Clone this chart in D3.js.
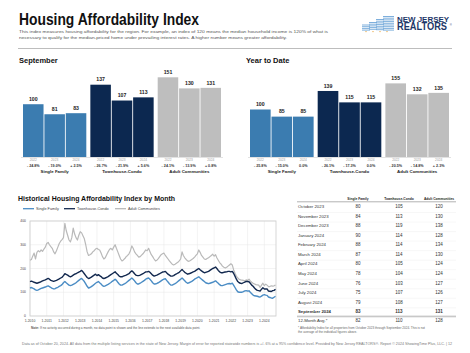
<!DOCTYPE html>
<html>
<head>
<meta charset="utf-8">
<script src="https://cdn.jsdelivr.net/npm/d3@7"></script>
<style>
  body { margin: 0; background: #fff; }
  svg { display: block; font-family: 'Liberation Sans', Arial, sans-serif; }
</style>
</head>
<body>
<svg width="470" height="353"></svg>
<script>
'use strict';
const svg = d3.select('svg');

// bar chart data
const groups = ['Single Family', 'Townhouse-Condo', 'Adult Communities'];
const years = ['2022', '2023', '2024'];
const group_colors = ['#3b7cb0', '#0c2850', '#bebebe'];
const sep_values = [[100, 81, 83], [137, 107, 113], [151, 130, 131]];
const sep_changes = [['- 24.8%', '- 19.0%', '+ 2.5%'], ['- 26.7%', '- 21.9%', '+ 5.6%'], ['- 24.1%', '- 13.9%', '+ 0.8%']];
const ytd_values = [[100, 85, 85], [139, 115, 115], [155, 132, 135]];
const ytd_changes = [['- 25.8%', '- 15.0%', '0.0%'], ['- 26.1%', '- 17.3%', '0.0%'], ['- 20.5%', '- 14.8%', '+ 2.3%']];

// monthly history, Jan 2010 .. Sep 2024
const sf_monthly = [
  118,120,117,114,110,108,110,113,116,118,120,122,
  125,127,124,120,116,114,115,118,121,125,128,132,
  140,145,140,135,130,128,130,133,136,140,145,150,
  155,158,152,145,135,125,118,120,124,128,133,138,
  142,145,140,135,128,125,127,130,133,137,141,146,
  150,155,150,142,135,130,130,133,136,140,145,150,
  155,160,155,148,140,135,135,138,142,146,150,155,
  158,160,155,148,140,135,135,137,140,144,148,152,
  155,157,150,143,136,130,130,133,136,140,145,150,
  155,160,155,148,142,138,140,143,146,150,155,158,
  162,165,160,155,150,145,140,138,136,138,140,142,
  145,148,143,138,132,128,128,130,132,134,136,137,
  135,138,130,120,110,102,100,100,100,103,106,107,
  105,106,100,94,88,85,84,83,81,80,84,88,
  90,88,87,80,78,76,75,79,83
];
const th_monthly = [
  145,147,145,142,140,138,140,142,145,148,150,152,
  155,158,155,150,148,146,148,150,153,156,160,163,
  170,178,175,172,168,165,168,172,176,178,182,185,
  188,192,186,178,170,162,158,160,164,168,172,176,
  170,174,170,166,160,158,160,163,166,170,174,178,
  182,186,180,175,168,165,165,168,170,172,175,178,
  185,190,185,178,172,170,170,172,175,178,182,186,
  186,188,184,178,172,168,170,172,175,178,182,185,
  186,188,182,176,172,168,168,170,174,177,181,184,
  190,196,190,184,180,176,178,180,183,186,188,192,
  196,200,195,190,186,182,184,186,188,192,196,200,
  203,206,200,192,186,182,182,184,185,186,188,188,
  186,188,180,168,155,145,140,138,137,140,143,146,
  145,144,138,130,125,118,112,108,107,105,113,119,
  114,114,114,105,104,103,107,108,113
];
const ac_monthly = [
  235,238,252,265,240,268,275,270,278,272,282,290,
  305,310,300,292,285,270,262,275,290,305,315,322,
  330,390,360,340,320,312,330,370,345,330,320,340,
  355,350,338,325,300,270,255,258,262,270,275,282,
  285,280,278,265,250,240,245,258,270,280,285,278,
  290,300,285,270,255,240,232,236,242,250,255,262,
  275,295,285,270,262,255,248,250,256,262,270,278,
  275,285,272,258,250,240,232,235,242,250,258,262,
  265,255,248,240,232,225,218,215,218,222,226,232,
  240,270,255,245,238,232,230,234,238,242,248,255,
  262,278,268,255,248,240,238,242,245,250,255,260,
  252,258,245,235,225,218,210,205,202,205,210,215,
  220,215,195,180,168,160,155,152,151,150,148,152,
  150,155,148,142,138,135,132,131,130,120,130,138,
  128,134,130,124,124,127,126,127,131
];
const line_series = ['Single Family', 'Townhouse-Condo', 'Adult Communities'];
const line_colors = ['#4a8cc4', '#13294f', '#b9b9b9'];
const y_ticks = [0, 100, 200, 300, 400];
const x_tick_labels = ['1-2010','1-2011','1-2012','1-2013','1-2014','1-2015','1-2016','1-2017','1-2018','1-2019','1-2020','1-2021','1-2022','1-2023','1-2024'];

// table
const table_months = ['October 2023','November 2023','December 2023','January 2024','February 2024','March 2024','April 2024','May 2024','June 2024','July 2024','August 2024','September 2024'];
const table_sf = [80, 84, 88, 90, 88, 87, 80, 78, 76, 75, 79, 83];
const table_th = [105, 113, 119, 114, 114, 114, 105, 104, 103, 107, 108, 113];
const table_ac = [120, 130, 138, 128, 134, 130, 124, 124, 127, 126, 127, 131];
const table_avg = [82, 110, 128];

const condensed = "'Liberation Sans Narrow', 'Liberation Sans', Arial, sans-serif";

// header
svg.append('text').attr('x', 19).attr('y', 25)
  .attr('font-family', condensed).attr('font-weight', 'bold').attr('font-size', 16)
  .attr('textLength', 180).attr('lengthAdjust', 'spacingAndGlyphs')
  .attr('fill', '#111').text('Housing Affordability Index');
const sub_lines = [
  'This index measures housing affordability for the region. For example, an index of 120 means the median household income is 120% of what is',
  'necessary to qualify for the median-priced home under prevailing interest rates. A higher number means greater affordability.'
];
svg.append('g').selectAll('text').data(sub_lines).enter().append('text')
  .attr('x', 19).attr('y', (d, i) => 33 + i * 6.3)
  .attr('font-size', 4.1).attr('fill', '#555')
  .attr('textLength', (d, i) => i === 0 ? 309 : 268).attr('lengthAdjust', 'spacingAndGlyphs')
  .text(d => d);
svg.append('line').attr('x1', 18).attr('x2', 452).attr('y1', 48.5).attr('y2', 48.5)
  .attr('stroke', '#bdbdbd').attr('stroke-width', 1.2);

// logo
const logo = svg.append('g');
const towers = [[362, 8, 25], [369, 8, 22.5], [376, 8, 19.5], [383, 11, 16.5]];
towers.forEach(t => {
  const rows = d3.range(t[2], 30.5, 1.7);
  logo.append('g').selectAll('line').data(rows).enter().append('line')
    .attr('x1', t[0]).attr('x2', t[0] + t[1]).attr('y1', d => d).attr('y2', d => d)
    .attr('stroke', '#6fa6d8').attr('stroke-width', 0.9);
});
logo.append('g').selectAll('circle').data([366, 373, 380, 387]).enter().append('circle')
  .attr('cx', d => d).attr('cy', 31.6).attr('r', 0.7).attr('fill', '#e8a33a');
logo.append('text').attr('x', 397).attr('y', 21.5).attr('font-weight', 'bold').attr('font-size', 7)
  .attr('textLength', 52).attr('lengthAdjust', 'spacingAndGlyphs').attr('fill', '#1d3768').text('NEW JERSEY');
logo.append('text').attr('x', 397).attr('y', 30).attr('font-weight', 'bold').attr('font-size', 10)
  .attr('textLength', 50).attr('lengthAdjust', 'spacingAndGlyphs').attr('fill', '#1d3768').text('REALTORS');
logo.append('text').attr('x', 449.8).attr('y', 25.5).attr('font-size', 2.8).attr('fill', '#1d3768').text('®');

// bar charts
function draw_bars(left, right, values, changes, y_max, title) {
  const g = svg.append('g');
  g.append('text').attr('x', left - 4).attr('y', 62.5)
    .attr('font-family', condensed).attr('font-weight', 'bold').attr('font-size', 7.5)
    .attr('fill', '#111').text(title);

  const outer = d3.scaleBand().domain(groups).range([left, right]).paddingInner(0.06);
  const inner = d3.scaleBand().domain(years).range([0, outer.bandwidth()]).paddingInner(0.04);
  const y = d3.scaleLinear().domain([0, y_max]).range([157, 62]);

  g.append('line').attr('x1', left - 2).attr('x2', right + 2).attr('y1', 157.5).attr('y2', 157.5)
    .attr('stroke', '#cfcfcf').attr('stroke-width', 0.6);

  const grp = g.selectAll('g.grp').data(groups).enter().append('g')
    .attr('class', 'grp')
    .attr('transform', d => `translate(${outer(d)},0)`);

  grp.selectAll('rect').data((d, i) => values[i].map(v => ({v, gi: i}))).enter().append('rect')
    .attr('x', (d, i) => inner(years[i]))
    .attr('y', d => y(d.v))
    .attr('width', inner.bandwidth())
    .attr('height', d => 157 - y(d.v))
    .attr('fill', d => group_colors[d.gi]);

  grp.selectAll('text.val').data((d, i) => values[i]).enter().append('text')
    .attr('class', 'val')
    .attr('x', (d, i) => inner(years[i]) + inner.bandwidth() / 2)
    .attr('y', d => y(d) - 3.2)
    .attr('text-anchor', 'middle').attr('font-weight', 'bold').attr('font-size', 5.2)
    .attr('fill', '#222').text(d => d);

  grp.selectAll('text.yr').data(years).enter().append('text')
    .attr('class', 'yr')
    .attr('x', d => inner(d) + inner.bandwidth() / 2).attr('y', 161.3)
    .attr('text-anchor', 'middle').attr('font-size', 3.2).attr('fill', '#9a9a9a').text(d => d);

  grp.selectAll('text.chg').data((d, i) => changes[i]).enter().append('text')
    .attr('class', 'chg')
    .attr('x', (d, i) => inner(years[i]) + inner.bandwidth() / 2).attr('y', 166.8)
    .attr('text-anchor', 'middle').attr('font-weight', 'bold').attr('font-size', 3.7)
    .attr('fill', '#333').text(d => d);

  grp.append('text')
    .attr('x', outer.bandwidth() / 2).attr('y', 173.2)
    .attr('text-anchor', 'middle').attr('font-weight', 'bold').attr('font-size', 4.4)
    .attr('fill', '#222').text(d => d);
}
draw_bars(23, 221, sep_values, sep_changes, 180, 'September');
draw_bars(250, 449, ytd_values, ytd_changes, 200, 'Year to Date');

// historical line chart
const lc = svg.append('g');
lc.append('text').attr('x', 18).attr('y', 200.5)
  .attr('font-family', condensed).attr('font-weight', 'bold').attr('font-size', 7.5)
  .attr('textLength', 157).attr('lengthAdjust', 'spacingAndGlyphs')
  .attr('fill', '#111').text('Historical Housing Affordability Index by Month');

const legend_x = [23, 64, 115];
const legend = lc.append('g').selectAll('g').data(line_series).enter().append('g')
  .attr('transform', (d, i) => `translate(${legend_x[i]},208.7)`);
legend.append('line').attr('x1', 0).attr('x2', 11).attr('y1', 0).attr('y2', 0)
  .attr('stroke', (d, i) => line_colors[i]).attr('stroke-width', 1.3);
legend.append('text').attr('x', 13).attr('y', 1.3).attr('font-size', 3.8).attr('fill', '#444').text(d => d);

const start = new Date(2010, 0, 1);
const x_scale = d3.scaleTime().domain([start, new Date(2024, 8, 1)]).range([30, 275.5]);
const y_scale = d3.scaleLinear().domain([0, 400]).range([316, 221]);

lc.append('g').selectAll('line').data(x_tick_labels).enter().append('line')
  .attr('x1', (d, i) => x_scale(new Date(2010 + i, 0, 1)))
  .attr('x2', (d, i) => x_scale(new Date(2010 + i, 0, 1)))
  .attr('y1', 221).attr('y2', 316).attr('stroke', '#e6e6e6').attr('stroke-width', 0.5);
lc.append('g').selectAll('line').data(y_ticks).enter().append('line')
  .attr('x1', 30).attr('x2', 276).attr('y1', d => y_scale(d)).attr('y2', d => y_scale(d))
  .attr('stroke', '#e6e6e6').attr('stroke-width', 0.5);
lc.append('rect').attr('x', 30).attr('y', 221).attr('width', 246).attr('height', 95)
  .attr('fill', 'none').attr('stroke', '#d2d2d2').attr('stroke-width', 0.9);

lc.append('g').selectAll('text').data(y_ticks).enter().append('text')
  .attr('x', 26).attr('y', d => y_scale(d)).attr('dy', '0.35em')
  .attr('text-anchor', 'end').attr('font-size', 3.4).attr('fill', '#444').text(d => d);
lc.append('g').selectAll('text').data(x_tick_labels).enter().append('text')
  .attr('x', (d, i) => x_scale(new Date(2010 + i, 0, 1))).attr('y', 321.5)
  .attr('text-anchor', 'middle').attr('font-size', 3.4).attr('fill', '#444').text(d => d);

const line_gen = d3.line()
  .x((d, i) => x_scale(d3.timeMonth.offset(start, i)))
  .y(d => y_scale(d));
[[ac_monthly, 2], [sf_monthly, 0], [th_monthly, 1]].forEach(([data, ci]) => {
  lc.append('path').datum(data).attr('d', line_gen)
    .attr('fill', 'none').attr('stroke', line_colors[ci])
    .attr('stroke-width', ci === 2 ? 1.2 : 1.4).attr('stroke-linejoin', 'round');
});

const note = lc.append('text').attr('x', 31).attr('y', 328.7).attr('font-size', 3.2).attr('fill', '#555');
note.append('tspan').attr('font-weight', 'bold').text('Note:');
note.append('tspan').text(' If no activity occurred during a month, no data point is shown and the line extends to the next available data point.');

// table
const tb = svg.append('g');
const col_x = [358, 399, 439];
tb.append('g').selectAll('text').data(groups).enter().append('text')
  .attr('x', (d, i) => col_x[i]).attr('y', 199.5).attr('text-anchor', 'middle')
  .attr('font-weight', 'bold').attr('font-size', 3.3).attr('fill', '#222').text(d => d);
tb.append('line').attr('x1', 297).attr('x2', 456).attr('y1', 201.8).attr('y2', 201.8)
  .attr('stroke', '#666').attr('stroke-width', 0.5);

const row_y = i => 208.3 + i * 9.53;
const rows = tb.selectAll('g.row').data(table_months).enter().append('g').attr('class', 'row');
rows.append('line').attr('x1', 297).attr('x2', 456)
  .attr('y1', (d, i) => row_y(i) + 4.2).attr('y2', (d, i) => row_y(i) + 4.2)
  .attr('stroke', '#ececec').attr('stroke-width', 0.4);
rows.each(function(d, i) {
  const r = d3.select(this);
  const bold = i === table_months.length - 1 ? 'bold' : 'normal';
  const cells = [table_sf[i], table_th[i], table_ac[i]];
  r.append('text').attr('x', 298).attr('y', row_y(i)).attr('font-size', 4.3)
    .attr('font-weight', bold).attr('fill', '#333').text(d);
  r.selectAll('text.num').data(cells).enter().append('text').attr('class', 'num')
    .attr('x', (c, j) => col_x[j]).attr('y', row_y(i)).attr('text-anchor', 'middle')
    .attr('font-size', 4.5).attr('font-weight', bold).attr('fill', '#333').text(c => c);
});
tb.append('rect').attr('x', 297).attr('y', 315.6).attr('width', 159).attr('height', 1.6).attr('fill', '#c8c8c8');
tb.append('text').attr('x', 298).attr('y', 322.2).attr('font-size', 4.3).attr('fill', '#333').text('12-Month Avg.*');
tb.append('g').selectAll('text').data(table_avg).enter().append('text')
  .attr('x', (d, i) => col_x[i]).attr('y', 322.2).attr('text-anchor', 'middle')
  .attr('font-size', 4.5).attr('fill', '#333').text(d => d);
const foot_lines = [
  '* Affordability Index for all properties from October 2023 through September 2024. This is not',
  'the average of the individual figures above.'
];
tb.append('g').selectAll('text').data(foot_lines).enter().append('text')
  .attr('x', 298).attr('y', (d, i) => 328.8 + i * 4.6).attr('font-size', 3.1).attr('fill', '#666').text(d => d);

// footer
svg.append('text').attr('x', 22).attr('y', 345)
  .attr('font-size', 3.1).attr('fill', '#777')
  .attr('textLength', 430).attr('lengthAdjust', 'spacingAndGlyphs')
  .text('Data as of October 20, 2024. All data from the multiple listing services in the state of New Jersey. Margin of error for reported statewide numbers is +/- 6% at a 95% confidence level. Provided by New Jersey REALTORS®. Report © 2024 ShowingTime Plus, LLC. | 12');
</script>
</body>
</html>
